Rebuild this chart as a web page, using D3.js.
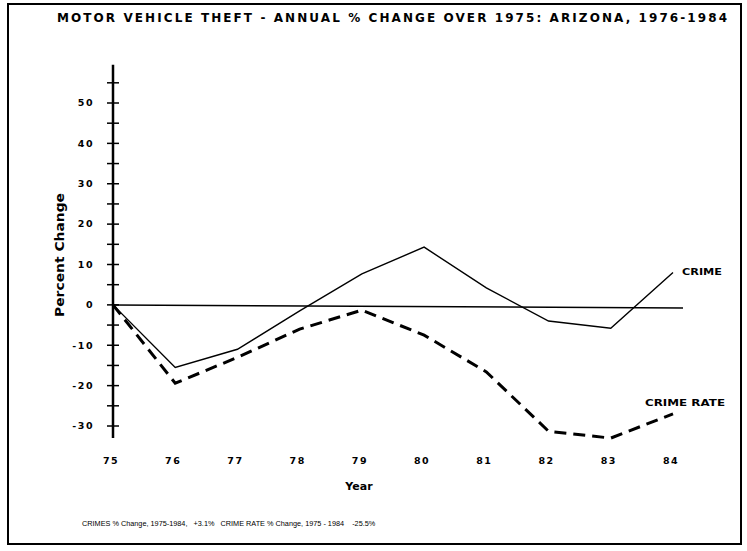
<!DOCTYPE html>
<meta charset="utf-8">
<style>
body { margin: 0; background: #fff; }
text { font-family: 'DejaVu Sans', 'Liberation Sans', sans-serif; fill: #000; }
.title { font-size: 12px; font-weight: bold; }
.tick { font-size: 9.5px; font-weight: bold; letter-spacing: 1.5px; }
.axisLabel { font-size: 11px; font-weight: bold; }
.yLabel { font-size: 12.5px; font-weight: bold; }
.seriesLabel { font-size: 9px; font-weight: bold; }
.note { font-family: 'Liberation Sans', Arial, sans-serif; font-size: 7.3px; }
</style>
<body>
<script src="https://d3js.org/d3.v7.min.js"></script>
<script>

const years = [75, 76, 77, 78, 79, 80, 81, 82, 83, 84];
const crime = [0, -15.5, -11, -1.5, 7.7, 14.3, 4.2, -4, -5.8, 8];
const crimeRate = [0, -19.4, -13, -6, -1.3, -7.5, -16.6, -31.3, -33, -27];
const yTicks = [50, 40, 30, 20, 10, 0, -10, -20, -30];
const minorTicks = d3.range(-30, 56, 5);

const width = 747, height = 551;

let svg = d3.select("body").append("svg")
            .attr("width", width)
            .attr("height", height);

let x = d3.scaleLinear().domain([75, 84]).range([113, 673]),
    y = d3.scaleLinear().domain([-30, 50]).range([426, 103]);

// frame
svg.append("rect")
    .attr("x", 8).attr("y", 4)
    .attr("width", 733).attr("height", 540)
    .attr("fill", "none")
    .attr("stroke", "#000")
    .attr("stroke-width", 2);

svg.append("text")
    .attr("class", "title")
    .attr("x", 57).attr("y", 22)
    .attr("textLength", 670)
    .attr("lengthAdjust", "spacing")
    .text("MOTOR VEHICLE THEFT - ANNUAL % CHANGE OVER 1975:  ARIZONA, 1976-1984");

// y axis
svg.append("line")
    .attr("x1", x(75)).attr("x2", x(75))
    .attr("y1", y(59.5)).attr("y2", y(-33))
    .attr("stroke", "#000").attr("stroke-width", 2.5);

svg.append("g")
  .selectAll("line")
  .data(minorTicks)
  .join("line")
    .attr("x1", x(75) - 6).attr("x2", x(75) + 6)
    .attr("y1", d => y(d)).attr("y2", d => y(d))
    .attr("stroke", "#000").attr("stroke-width", 1.5);

svg.append("g")
  .selectAll("text")
  .data(yTicks)
  .join("text")
    .attr("class", "tick")
    .attr("x", 94)
    .attr("y", d => y(d))
    .attr("dy", "0.35em")
    .attr("text-anchor", "end")
    .text(d => d);

svg.append("text")
    .attr("class", "yLabel")
    .attr("transform", `translate(64,255) rotate(-90)`)
    .attr("text-anchor", "middle")
    .attr("textLength", 124)
    .attr("lengthAdjust", "spacingAndGlyphs")
    .text("Percent Change");

// x labels
svg.append("g")
  .selectAll("text")
  .data(years)
  .join("text")
    .attr("class", "tick")
    .attr("x", d => x(d) - 2)
    .attr("y", 464)
    .attr("text-anchor", "middle")
    .text(d => d);

svg.append("text")
    .attr("class", "axisLabel")
    .attr("x", 359).attr("y", 490)
    .attr("text-anchor", "middle")
    .text("Year");

// zero line
svg.append("line")
    .attr("x1", x(75)).attr("x2", 683)
    .attr("y1", y(0)).attr("y2", y(-0.8))
    .attr("stroke", "#000").attr("stroke-width", 1.5);

const line = d3.line()
    .x((d, i) => x(years[i]))
    .y(d => y(d));

svg.append("path")
    .attr("d", line(crime))
    .attr("fill", "none")
    .attr("stroke", "#000")
    .attr("stroke-width", 1.4);

svg.append("path")
    .attr("d", line(crimeRate))
    .attr("fill", "none")
    .attr("stroke", "#000")
    .attr("stroke-width", 3)
    .attr("stroke-dasharray", "12,7");

svg.append("text")
    .attr("class", "seriesLabel")
    .attr("x", 682).attr("y", 275)
    .attr("textLength", 40)
    .attr("lengthAdjust", "spacingAndGlyphs")
    .text("CRIME");

svg.append("text")
    .attr("class", "seriesLabel")
    .attr("x", 645).attr("y", 406)
    .attr("textLength", 80)
    .attr("lengthAdjust", "spacingAndGlyphs")
    .text("CRIME RATE");

svg.append("text")
    .attr("class", "note")
    .attr("x", 82).attr("y", 526)
    .attr("xml:space", "preserve")
    .text("CRIMES % Change, 1975-1984,   +3.1%   CRIME RATE % Change, 1975 - 1984    -25.5%");

</script>
